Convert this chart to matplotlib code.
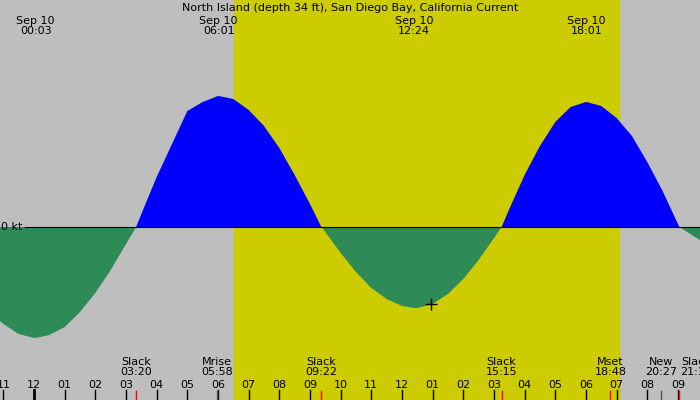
import matplotlib
matplotlib.use("Agg")
import matplotlib.pyplot as plt

# hours from midnight Sep 10, current in knots (every half hour)
hours = [-1.11, -1, -0.5, 0, 0.05, 0.5, 1, 1.5, 2, 2.5, 3, 3.33,
         3.5, 4, 4.5, 5, 5.5, 6, 6.02, 6.5, 7, 7.5, 8, 8.5, 9, 9.37,
         9.5, 10, 10.5, 11, 11.5, 12, 12.4, 12.5, 13, 13.5, 14, 14.5, 15, 15.25,
         15.5, 16, 16.5, 17, 17.5, 18, 18.02, 18.5, 19, 19.5, 20, 20.5, 21, 21.05,
         21.5, 21.72]
knots = [-0.94, -0.97, -1.07, -1.11, -1.11, -1.08, -1.00, -0.85, -0.66, -0.43, -0.17, 0.0,
         0.13, 0.50, 0.83, 1.16, 1.25, 1.31, 1.31, 1.28, 1.17, 1.01, 0.79, 0.52, 0.23, 0.0,
         -0.05, -0.26, -0.45, -0.61, -0.72, -0.79, -0.81, -0.81, -0.77, -0.67, -0.52, -0.33, -0.11, 0.0,
         0.18, 0.52, 0.81, 1.05, 1.20, 1.25, 1.25, 1.21, 1.09, 0.91, 0.65, 0.36, 0.03, 0.0,
         -0.09, -0.13]

sunrise, sunset = 6.52, 19.07
top_times = [0.05, 6.02, 12.4, 18.02]
top_labels = ["Sep 10\n00:03", "Sep 10\n06:01", "Sep 10\n12:24", "Sep 10\n18:01"]
event_times = [3.33, 5.97, 9.37, 15.25, 18.8, 20.45, 21.6]
event_labels = ["Slack\n03:20", "Mrise\n05:58", "Slack\n09:22", "Slack\n15:15",
                "Mset\n18:48", "New\n20:27", "Slack\n21:12"]
red_events = [3.33, 9.37, 15.25, 18.8, 21.05]
gray_events = [5.97, 20.45]
hour_ticks = list(range(-1, 22))
now = (12.95, -0.77)

fig = plt.figure(figsize=(7, 4), dpi=100)
ax = fig.add_axes([0, 0, 1, 1])
ax.set_xlim(-1.11, 21.72)
ax.set_ylim(-1.73, 2.27)
ax.axis("off")
fig.patch.set_facecolor("#bebebe")
ax.axvspan(sunrise, sunset, color="#cccc00", zorder=0)

ax.fill_between(hours, knots, 0, where=[k >= 0 for k in knots], color="#0000ff",
                interpolate=True, lw=0, zorder=2)
ax.fill_between(hours, knots, 0, where=[k <= 0 for k in knots], color="#2e8b57",
                interpolate=True, lw=0, zorder=2)
ax.plot([-0.3, 21.72], [0, 0], color="black", lw=0.8, zorder=3)
ax.text(-1.08, 0.0, "0 kt", fontsize=8, va="center", ha="left", zorder=4)
ax.plot(*now, marker="+", color="black", ms=8, zorder=4)

ax.text(10.3, 2.19, "North Island (depth 34 ft), San Diego Bay, California Current",
        ha="center", va="center", fontsize=8)
for t, lab in zip(top_times, top_labels):
    ax.text(t, 2.01, lab, ha="center", va="center", fontsize=8, linespacing=1.0)
for t, lab in zip(event_times, event_labels):
    ax.text(t, -1.40, lab, ha="center", va="center", fontsize=8, linespacing=1.0)

for h in hour_ticks:
    lab = "%02d" % ((h - 1) % 12 + 1)
    ax.text(h, -1.58, lab, ha="center", va="center", fontsize=8)
    ax.plot([h, h], [-1.63, -1.73], color="black", lw=2 if h == 0 else 1, zorder=4)
for t in red_events:
    ax.plot([t, t], [-1.64, -1.73], color="red", lw=1, zorder=4)
for t in gray_events:
    ax.plot([t, t], [-1.64, -1.73], color="#555555", lw=1, zorder=4)

fig.savefig("out.png", dpi=100, facecolor=fig.get_facecolor())
